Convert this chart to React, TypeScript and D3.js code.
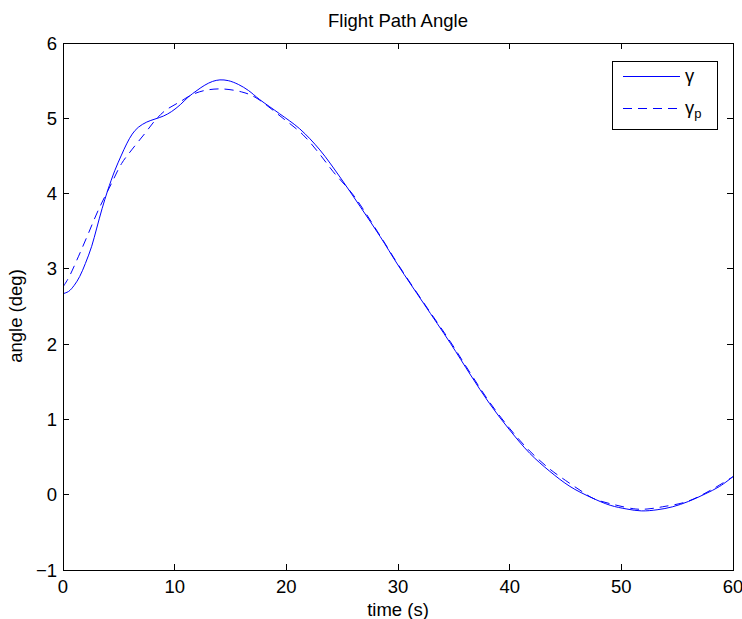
import React from "react";
import * as d3 from "d3";

const xTicks = [0, 10, 20, 30, 40, 50, 60];
const yTicks = [-1, 0, 1, 2, 3, 4, 5, 6];

const gammaTime = [0, 0.5, 1, 1.5, 2, 2.57, 3, 3.5, 4, 4.65, 5.2, 5.7, 6.2, 6.74, 7.5, 8.24, 9, 9.73, 10.5, 11.2, 12, 12.7, 13.4, 14.05, 14.8, 15.7, 16.6, 17.6, 19.4, 21.2, 23, 24.8, 26.6, 28.4, 30, 32.3, 34.7, 36.5, 38.2, 40, 41.8, 43.6, 45.4, 47.2, 49, 50.5, 51.8, 53.2, 54.6, 56, 57.5, 58.8, 60];
const gammaValues = [2.67, 2.7, 2.78, 2.9, 3.07, 3.3, 3.53, 3.8, 4.04, 4.31, 4.5, 4.66, 4.79, 4.88, 4.95, 4.99, 5.03, 5.09, 5.18, 5.28, 5.37, 5.44, 5.49, 5.51, 5.5, 5.45, 5.37, 5.25, 5.06, 4.86, 4.58, 4.22, 3.83, 3.43, 3.05, 2.54, 2.01, 1.59, 1.21, 0.86, 0.55, 0.31, 0.11, -0.03, -0.14, -0.19, -0.215, -0.2, -0.16, -0.09, 0.01, 0.11, 0.24];

const gammaPTime = [0, 0.5, 1.37, 2.27, 3.16, 4.36, 5.25, 6.15, 7.34, 8.24, 9.13, 10.6, 11.5, 12.7, 14.2, 16, 17.2, 19.7, 21.5, 22.9, 24.2, 26, 28.4, 30, 32.3, 34.7, 36.5, 38.2, 40, 41.8, 43.6, 45, 46.3, 47.5, 49.3, 51.3, 52.3, 53.7, 55.9, 58, 60];
const gammaPValues = [2.76, 2.88, 3.16, 3.47, 3.78, 4.14, 4.4, 4.58, 4.8, 4.97, 5.1, 5.23, 5.31, 5.37, 5.39, 5.35, 5.28, 5.0, 4.78, 4.54, 4.29, 3.98, 3.44, 3.06, 2.55, 2.03, 1.61, 1.23, 0.88, 0.58, 0.34, 0.19, 0.06, -0.05, -0.13, -0.19, -0.19, -0.16, -0.09, 0.06, 0.24];

const W = 742;
const H = 619;
const L = 63, R = 733, T = 43, B = 570;
const FONT = "'Liberation Sans', Arial, Helvetica, sans-serif";
const BLUE = "#0000ff";
const FS = 18.5;

export default function App() {
  const x = d3.scaleLinear().domain([0, 60]).range([L, R]);
  const y = d3.scaleLinear().domain([-1, 6]).range([B, T]);
  const line = d3
    .line<[number, number]>()
    .x((d) => x(d[0]))
    .y((d) => y(d[1]))
    .curve(d3.curveCatmullRom.alpha(0.5));
  const g1 = line(gammaTime.map((t, i) => [t, gammaValues[i]] as [number, number])) || "";
  const g2 = line(gammaPTime.map((t, i) => [t, gammaPValues[i]] as [number, number])) || "";
  const tl = 6;

  return (
    <svg width={W} height={H} style={{ position: "absolute", left: 0, top: 0, background: "#fff" }} fontFamily={FONT}>
      <rect x={0} y={0} width={W} height={H} fill="#fff" />
      <defs>
        <clipPath id="plotclip">
          <rect x={L} y={T} width={R - L} height={B - T} />
        </clipPath>
      </defs>
      <g clipPath="url(#plotclip)">
        <path d={g1} fill="none" stroke={BLUE} strokeWidth={1} />
        <path d={g2} fill="none" stroke={BLUE} strokeWidth={1} strokeDasharray="9,6" />
      </g>
      <rect x={L} y={T} width={R - L} height={B - T} fill="none" stroke="#000" strokeWidth={1} shapeRendering="crispEdges" />
      {xTicks.map((t) => (
        <g key={"x" + t}>
          <line x1={x(t)} x2={x(t)} y1={B} y2={B - tl} stroke="#000" shapeRendering="crispEdges" />
          <line x1={x(t)} x2={x(t)} y1={T} y2={T + tl} stroke="#000" shapeRendering="crispEdges" />
          <text x={x(t)} y={593} fontSize={FS} textAnchor="middle">{t}</text>
        </g>
      ))}
      {yTicks.map((t) => (
        <g key={"y" + t}>
          <line x1={L} x2={L + tl} y1={y(t)} y2={y(t)} stroke="#000" shapeRendering="crispEdges" />
          <line x1={R} x2={R - tl} y1={y(t)} y2={y(t)} stroke="#000" shapeRendering="crispEdges" />
          <text x={57} y={y(t) + 6.5} fontSize={FS} textAnchor="end">{t < 0 ? "\u2212" + Math.abs(t) : t}</text>
        </g>
      ))}
      <text x={(L + R) / 2} y={27} fontSize={FS} textAnchor="middle">Flight Path Angle</text>
      <text x={(L + R) / 2} y={616} fontSize={FS} textAnchor="middle">time (s)</text>
      <text transform="translate(22,316) rotate(-90)" fontSize={FS} textAnchor="middle">angle (deg)</text>
      <g>
        <rect x={612} y={61} width={105} height={68} fill="#fff" stroke="#000" strokeWidth={1} shapeRendering="crispEdges" />
        <line x1={623} x2={680} y1={76.5} y2={76.5} stroke={BLUE} strokeWidth={1} />
        <line x1={623} x2={680} y1={108.5} y2={108.5} stroke={BLUE} strokeWidth={1} strokeDasharray="9,6" />
        <text x={685} y={82} fontSize={FS}>γ</text>
        <text x={685} y={114} fontSize={FS}>γ<tspan fontSize={13} dy={4}>p</tspan></text>
      </g>
    </svg>
  );
}
